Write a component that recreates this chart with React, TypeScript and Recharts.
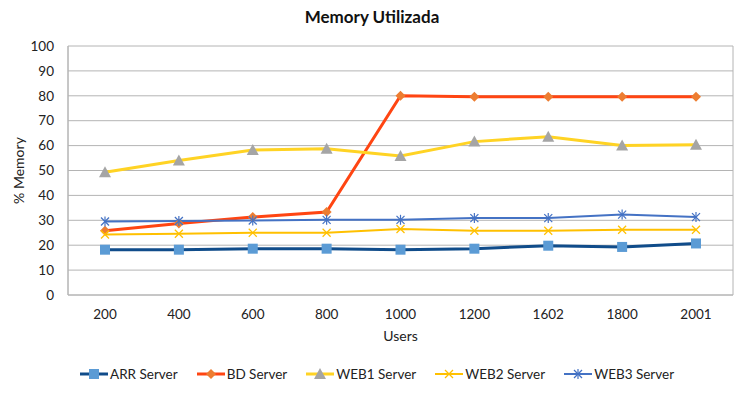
import { LineChart, Line, XAxis, YAxis, CartesianGrid } from "recharts";

const users: Array<string> = ["200", "400", "600", "800", "1000", "1200", "1602", "1800", "2001"];

const arrServer = [18.2, 18.2, 18.6, 18.6, 18.2, 18.6, 19.8, 19.3, 20.7];
const bdServer = [25.8, 28.7, 31.3, 33.3, 80.0, 79.6, 79.6, 79.6, 79.6];
const web1Server = [49.3, 54.0, 58.2, 58.7, 55.8, 61.6, 63.6, 60.0, 60.3];
const web2Server = [24.3, 24.6, 25.0, 25.0, 26.5, 25.8, 25.8, 26.2, 26.2];
const web3Server = [29.5, 29.7, 29.9, 30.2, 30.2, 30.9, 30.9, 32.3, 31.3];

const yTicks = [0, 10, 20, 30, 40, 50, 60, 70, 80, 90, 100];

const data = users.map((u, i) => ({
  users: u,
  arr: arrServer[i],
  bd: bdServer[i],
  web1: web1Server[i],
  web2: web2Server[i],
  web3: web3Server[i],
}));

type Shape = "square" | "diamond" | "triangle" | "x" | "star";

const series: Array<{ key: string; name: string; line: string; marker: string; shape: Shape; width: number }> = [
  { key: "arr", name: "ARR Server", line: "#104C8A", marker: "#5B9BD5", shape: "square", width: 3 },
  { key: "bd", name: "BD Server", line: "#FF4512", marker: "#ED7D31", shape: "diamond", width: 3 },
  { key: "web1", name: "WEB1 Server", line: "#FFD324", marker: "#A5A5A5", shape: "triangle", width: 3 },
  { key: "web2", name: "WEB2 Server", line: "#FFC000", marker: "#FFC000", shape: "x", width: 2 },
  { key: "web3", name: "WEB3 Server", line: "#4472C4", marker: "#4472C4", shape: "star", width: 2 },
];

const FONT = "Lato, 'Liberation Sans', sans-serif";

const Marker = ({ cx, cy, shape, color }: { cx: number; cy: number; shape: Shape; color: string }) => {
  switch (shape) {
    case "square":
      return <rect x={cx - 5} y={cy - 5} width={10} height={10} fill={color} />;
    case "diamond":
      return <polygon points={`${cx},${cy - 5} ${cx + 5},${cy} ${cx},${cy + 5} ${cx - 5},${cy}`} fill={color} />;
    case "triangle":
      return <polygon points={`${cx},${cy - 6} ${cx + 6},${cy + 5} ${cx - 6},${cy + 5}`} fill={color} />;
    case "x":
      return (
        <g stroke={color} strokeWidth={1.2}>
          <line x1={cx - 4} y1={cy - 4} x2={cx + 4} y2={cy + 4} />
          <line x1={cx - 4} y1={cy + 4} x2={cx + 4} y2={cy - 4} />
        </g>
      );
    default:
      return (
        <g stroke={color} strokeWidth={1.2}>
          <line x1={cx - 4} y1={cy - 4} x2={cx + 4} y2={cy + 4} />
          <line x1={cx - 4} y1={cy + 4} x2={cx + 4} y2={cy - 4} />
          <line x1={cx} y1={cy - 5} x2={cx} y2={cy + 5} />
        </g>
      );
  }
};

export default function App() {
  return (
    <div style={{ position: "fixed", left: 0, top: 0, width: 744, height: 394, background: "#fff" }}>
      <div
        style={{
          position: "absolute",
          top: 6,
          left: 0,
          width: 744,
          textAlign: "center",
          fontFamily: FONT,
          fontWeight: "bold",
          fontSize: 17,
          color: "#111",
        }}
      >
        Memory Utilizada
      </div>
      <LineChart width={744} height={394} data={data} margin={{ top: 46, right: 11, bottom: 49, left: 0 }}>
        <CartesianGrid
          stroke="#B4B4B4"
          verticalCoordinatesGenerator={({ offset }: any) => [offset.left, offset.left + offset.width]}
        />
        <XAxis
          dataKey="users"
          height={50}
          padding={{ left: 37, right: 37 }}
          tickLine={false}
          axisLine={{ stroke: "#B4B4B4" }}
          tickSize={0}
          tickMargin={14}
          tick={{ fill: "#222", fontSize: 13.5, fontFamily: FONT }}
          label={{ value: "Users", position: "insideBottom", offset: 4, fill: "#222", fontSize: 14, fontFamily: FONT }}
        />
        <YAxis
          width={68}
          domain={[0, 100]}
          ticks={yTicks}
          interval={0}
          tickLine={false}
          axisLine={{ stroke: "#B4B4B4" }}
          tickSize={0}
          tickMargin={14}
          tick={{ fill: "#222", fontSize: 13.5, fontFamily: FONT }}
          label={{
            value: "% Memory",
            angle: -90,
            position: "insideLeft",
            offset: 19,
            style: { textAnchor: "middle" },
            fill: "#222",
            fontSize: 14,
            fontFamily: FONT,
          }}
        />
        {series.map((s) => (
          <Line
            key={s.key}
            type="linear"
            dataKey={s.key}
            name={s.name}
            stroke={s.line}
            strokeWidth={s.width}
            isAnimationActive={false}
            dot={(p: any) => <Marker key={`${s.key}-${p.index}`} cx={p.cx} cy={p.cy} shape={s.shape} color={s.marker} />}
            activeDot={false}
          />
        ))}
      </LineChart>
      <div
        style={{
          position: "absolute",
          top: 366,
          left: 80,
          display: "flex",
          gap: 19,
          fontFamily: FONT,
          fontSize: 13.5,
          color: "#222",
        }}
      >
        {series.map((s) => (
          <div key={s.key} style={{ display: "flex", alignItems: "center" }}>
            <svg width={28} height={12}>
              <line x1={0} y1={6} x2={28} y2={6} stroke={s.line} strokeWidth={s.width} />
              <Marker cx={14} cy={6} shape={s.shape} color={s.marker} />
            </svg>
            <span style={{ marginLeft: 2 }}>{s.name}</span>
          </div>
        ))}
      </div>
    </div>
  );
}
